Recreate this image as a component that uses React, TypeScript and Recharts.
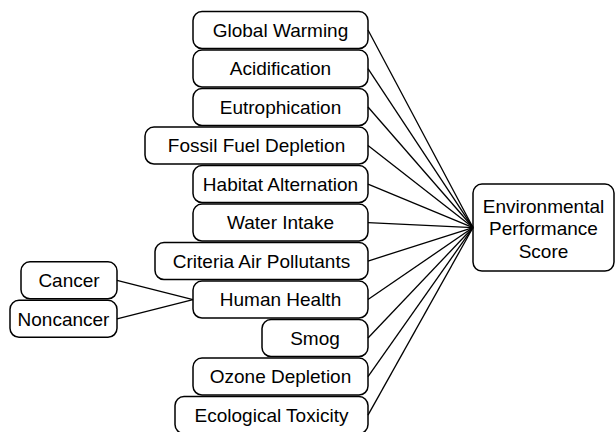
import { ScatterChart, XAxis, YAxis, ReferenceArea, ReferenceLine } from "recharts"

// Middle column: impact categories, one per row
const indicators = [
  "Global Warming",
  "Acidification",
  "Eutrophication",
  "Fossil Fuel Depletion",
  "Habitat Alternation",
  "Water Intake",
  "Criteria Air Pollutants",
  "Human Health",
  "Smog",
  "Ozone Depletion",
  "Ecological Toxicity",
]
const indicatorLeft = [193, 193, 193, 145, 193, 193, 155, 193, 262, 193, 175]
const indicatorRight = 368

// Left column: feeds into Human Health
const subIndicators = ["Cancer", "Noncancer"]
const subRows = [6.5, 7.5]
const subLeft = [21, 10]
const subRight = 117
const subParent = "Human Health"

// Right column: the overall score
const scoreLines = ["Environmental", "Performance", "Score"]
const scoreRow = 5.13
const scoreHeight = 2.26
const scoreSpan = [473, 614]

const ROW_H = 0.96
const FONT = "'Liberation Sans', Arial, sans-serif"

const boxShape = (lines: string[], dy = 0) => (p: any) => {
  const { x, y, width, height } = p
  const cx = x + width / 2
  const cy = y + height / 2
  return (
    <g>
      <rect
        x={x}
        y={y}
        width={width}
        height={height}
        rx={9}
        ry={9}
        fill="#fff"
        stroke="#000"
        strokeWidth={1.5}
      />
      <text textAnchor="middle" fontFamily={FONT} fontSize={19} fill="#000">
        {lines.map((l, i) => (
          <tspan key={i} x={cx} y={cy + 6.8 + dy + (i - (lines.length - 1) / 2) * 22.5}>
            {l}
          </tspan>
        ))}
      </text>
    </g>
  )
}

export default function App() {
  const parentRow = indicators.indexOf(subParent)

  return (
    <div style={{ position: "absolute", left: 0, top: 0 }}>
      <ScatterChart width={615} height={432} margin={{ top: 0, right: 0, bottom: 0, left: 0 }}>
        <XAxis type="number" dataKey="x" domain={[0, 615]} allowDataOverflow hide />
        <YAxis type="number" dataKey="y" domain={[-0.78, 10.44]} allowDataOverflow reversed hide />

        {indicators.map((name, i) => (
          <ReferenceLine
            key={"e" + name}
            segment={[
              { x: indicatorRight, y: i },
              { x: scoreSpan[0], y: scoreRow },
            ]}
            stroke="#000"
            strokeWidth={1.3}
            ifOverflow="visible"
          />
        ))}
        {subIndicators.map((name, i) => (
          <ReferenceLine
            key={"s" + name}
            segment={[
              { x: subRight, y: subRows[i] },
              { x: indicatorLeft[parentRow], y: parentRow },
            ]}
            stroke="#000"
            strokeWidth={1.3}
            ifOverflow="visible"
          />
        ))}

        {indicators.map((name, i) => (
          <ReferenceArea
            key={name}
            x1={indicatorLeft[i]}
            x2={indicatorRight}
            y1={i - ROW_H / 2}
            y2={i + ROW_H / 2}
            ifOverflow="visible"
            shape={boxShape([name])}
          />
        ))}
        {subIndicators.map((name, i) => (
          <ReferenceArea
            key={name}
            x1={subLeft[i]}
            x2={subRight}
            y1={subRows[i] - ROW_H / 2}
            y2={subRows[i] + ROW_H / 2}
            ifOverflow="visible"
            shape={boxShape([name])}
          />
        ))}
        <ReferenceArea
          x1={scoreSpan[0]}
          x2={scoreSpan[1]}
          y1={scoreRow - scoreHeight / 2}
          y2={scoreRow + scoreHeight / 2}
          ifOverflow="visible"
          shape={boxShape(scoreLines, 1)}
        />
      </ScatterChart>
    </div>
  )
}
